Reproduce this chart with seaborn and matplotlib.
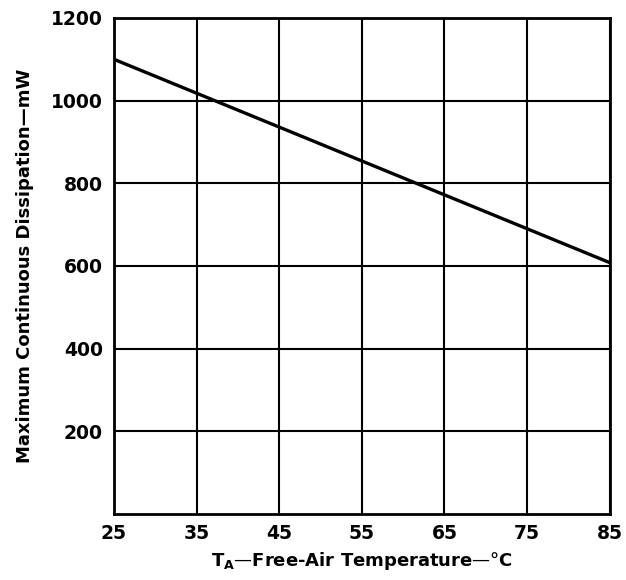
import matplotlib
matplotlib.use("Agg")
import matplotlib.pyplot as plt
import seaborn as sns
import pandas as pd

# derating curve
temp_c = [25, 85]
dissipation_mw = [1100, 608]

x_ticks = [25, 35, 45, 55, 65, 75, 85]
y_ticks = [200, 400, 600, 800, 1000, 1200]

df = pd.DataFrame({"temp": temp_c, "power": dissipation_mw})

sns.set_theme(style="white")
plt.rcParams["font.family"] = ["DejaVu Sans"]

fig = plt.figure(figsize=(6.26, 5.8), dpi=100)
ax = fig.add_axes([0.182, 0.114, 0.792, 0.855])

sns.lineplot(data=df, x="temp", y="power", color="black", linewidth=2.4, ax=ax)

ax.set_xlim(25, 85)
ax.set_ylim(0, 1200)
ax.set_xticks(x_ticks)
ax.set_yticks(y_ticks)
ax.grid(True, color="black", linewidth=1.5)
for s in ax.spines.values():
    s.set_color("black")
    s.set_linewidth(2)

ax.tick_params(axis="x", length=0, labelsize=13.5, pad=7, colors="black")
ax.tick_params(axis="y", length=0, labelsize=13.5, pad=8, colors="black")
for lbl in ax.get_xticklabels() + ax.get_yticklabels():
    lbl.set_fontweight("bold")

ax.set_xlabel(r"$\mathbf{T_A}$—Free-Air Temperature—°C", fontsize=13,
              fontweight="bold", color="black", labelpad=5)
ax.set_ylabel("Maximum Continuous Dissipation—mW", fontsize=13,
              fontweight="bold", color="black", labelpad=12)

fig.savefig("out.png", dpi=100)
